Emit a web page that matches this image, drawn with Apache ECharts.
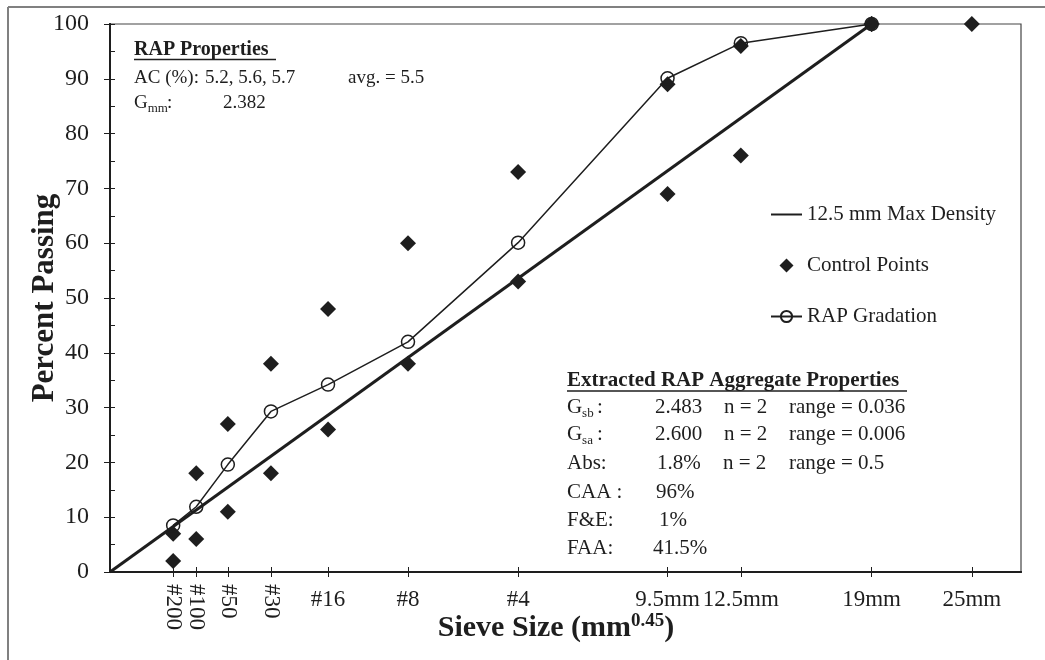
<!DOCTYPE html>
<html>
<head>
<meta charset="utf-8">
<script src="https://cdn.jsdelivr.net/npm/echarts@6/dist/echarts.min.js"></script>
<style>
html,body{margin:0;padding:0;background:#fff;}
#chart{width:1045px;height:660px;}
</style>
</head>
<body>
<div id="chart"></div>
<script>
// Sieve positions on the axis (mm^0.45) and their labels
const sieveLabels = ['#200', '#100', '#50', '#30', '#16', '#8', '#4', '9.5mm', '12.5mm', '19mm', '25mm'];
const sieveX = [0.312, 0.426, 0.582, 0.795, 1.077, 1.472, 2.016, 2.754, 3.116, 3.762, 4.257];
const rotatedLabelCount = 4; // #200..#30 drawn vertically

// Control points (lower / upper)
const controlLower = [2, 6, 11, 18, 26, 38, 53, 69, 76, 100, null];
const controlUpper = [7, 18, 27, 38, 48, 60, 73, 89, 96, 100, 100];

// RAP gradation (percent passing), up to 19mm
const rapGradation = [8.5, 11.9, 19.6, 29.3, 34.2, 42, 60.1, 90.1, 96.5, 100];

// 12.5 mm maximum density line endpoints
const maxDensityX = [0, 3.762];
const maxDensityY = [0, 100];

const yTicks = [0, 10, 20, 30, 40, 50, 60, 70, 80, 90, 100];

const FONT = "'Liberation Serif','Times New Roman',serif";
const INK = '#1e1e1e';

function labelFor(v) {
  for (let i = 0; i < sieveX.length; i++) if (Math.abs(sieveX[i] - v) < 1e-6) return sieveLabels[i];
  return '';
}

const controlData = [];
sieveX.forEach((x, i) => {
  if (controlLower[i] != null) controlData.push([x, controlLower[i]]);
  if (controlUpper[i] != null) controlData.push([x, controlUpper[i]]);
});
const rapData = rapGradation.map((v, i) => [sieveX[i], v]);
const maxData = maxDensityX.map((x, i) => [x, maxDensityY[i]]);

const chart = echarts.init(document.getElementById('chart'), null, {renderer: 'canvas'});

function txt(text, x, y, size, extra) {
  return {
    type: 'text', z: 100,
    style: Object.assign({text: text, x: x, y: y, fontSize: size, fontFamily: FONT, fill: INK,
      textAlign: 'left', textVerticalAlign: 'middle'}, extra || {})
  };
}
// "G" with a subscript and a trailing colon
function subG(x, y, sub, size, subSize, colonX) {
  return [
    txt('G', x, y, size),
    txt(sub, x + size * 0.72, y + size * 0.3, subSize),
    txt(':', colonX, y, size)
  ];
}

const S1 = 19; // RAP properties block
const S2 = 21; // extracted aggregate block

const graphics = [
  // outer frame (top & left)
  {type: 'line', z: 100, shape: {x1: 8, y1: 7, x2: 1045, y2: 7}, style: {stroke: '#808080', lineWidth: 2}},
  {type: 'line', z: 100, shape: {x1: 8, y1: 7, x2: 8, y2: 660}, style: {stroke: '#808080', lineWidth: 2}},
  // RAP properties block
  txt('RAP Properties', 134, 50, 20, {fontWeight: 'bold'}),
  {type: 'line', z: 100, shape: {x1: 134, y1: 59.5, x2: 276, y2: 59.5}, style: {stroke: INK, lineWidth: 1.5}},
  txt('AC (%):', 134, 78, S1),
  txt('5.2, 5.6, 5.7', 205, 78, S1),
  txt('avg. = 5.5', 348, 78, S1),
  ...subG(134, 103, 'mm', S1, 13, 167),
  txt('2.382', 223, 103, S1),
  // Extracted RAP aggregate block
  txt('Extracted RAP Aggregate Properties', 567, 381, S2, {fontWeight: 'bold'}),
  {type: 'line', z: 100, shape: {x1: 567, y1: 391, x2: 907, y2: 391}, style: {stroke: INK, lineWidth: 1.5}},
  ...subG(567, 407, 'sb', S2, 13, 597),
  txt('2.483', 655, 407, S2), txt('n = 2', 724, 407, S2), txt('range = 0.036', 789, 407, S2),
  ...subG(567, 434, 'sa', S2, 13, 597),
  txt('2.600', 655, 434, S2), txt('n = 2', 724, 434, S2), txt('range = 0.006', 789, 434, S2),
  txt('Abs:', 567, 463, S2),
  txt('1.8%', 657, 463, S2), txt('n = 2', 723, 463, S2), txt('range = 0.5', 789, 463, S2),
  txt('CAA :', 567, 492, S2), txt('96%', 656, 492, S2),
  txt('F&E:', 567, 520, S2), txt('1%', 659, 520, S2),
  txt('FAA:', 567, 548, S2), txt('41.5%', 653, 548, S2),
  // axis titles
  {type: 'text', z: 100, x: 45, y: 298, rotation: Math.PI / 2,
   style: {text: 'Percent Passing', fontSize: 31, fontWeight: 'bold', fontFamily: FONT, fill: INK,
     textAlign: 'center', textVerticalAlign: 'middle'}},
  {type: 'text', z: 100, x: 556, y: 628,
   style: {text: '{b|Sieve Size (mm}{s|0.45}{b|)}', textAlign: 'center', textVerticalAlign: 'middle', fill: INK,
     rich: {
       b: {fontSize: 30, fontWeight: 'bold', fontFamily: FONT, fill: INK, lineHeight: 32},
       s: {fontSize: 19, fontWeight: 'bold', fontFamily: FONT, fill: INK, verticalAlign: 'top', lineHeight: 32}
     }}}
];

const xCommon = {
  type: 'value', min: 0, max: 4.5, position: 'bottom',
  axisLine: {show: true, onZero: false, lineStyle: {color: INK, width: 2}},
  splitLine: {show: false}
};

const option = {
  animation: false,
  backgroundColor: '#fff',
  grid: {left: 110, right: 24, top: 24, bottom: 88, show: true, borderColor: '#444', borderWidth: 1.2},
  xAxis: [
    Object.assign({}, xCommon, {
      axisTick: {show: true, inside: false, length: 5, lineStyle: {color: INK, width: 1}, customValues: sieveX},
      axisLabel: {show: true, margin: 16, fontSize: 23, fontFamily: FONT, color: INK,
        customValues: sieveX.slice(rotatedLabelCount), formatter: labelFor}
    }),
    Object.assign({}, xCommon, {
      axisTick: {show: true, inside: true, length: 5, lineStyle: {color: INK, width: 1}, customValues: sieveX},
      axisLabel: {show: true, margin: 12, rotate: -90, fontSize: 23, fontFamily: FONT, color: INK,
        customValues: sieveX.slice(0, rotatedLabelCount), formatter: labelFor}
    })
  ],
  yAxis: [
    {type: 'value', min: 0, max: 100, interval: 10, position: 'left',
     axisLine: {show: true, lineStyle: {color: INK, width: 2}},
     axisTick: {show: true, inside: false, length: 6, lineStyle: {color: INK, width: 1}},
     axisLabel: {show: true, margin: 21, fontSize: 24, fontFamily: FONT, color: INK, customValues: yTicks},
     splitLine: {show: false}},
    {type: 'value', min: 0, max: 100, interval: 10, position: 'left', offset: 0,
     axisLine: {show: true, lineStyle: {color: INK, width: 2}},
     axisTick: {show: true, inside: true, length: 5, lineStyle: {color: INK, width: 1}},
     minorTick: {show: true, splitNumber: 2, length: 5, lineStyle: {color: INK, width: 1}},
     axisLabel: {show: false},
     splitLine: {show: false}}
  ],
  legend: {
    orient: 'vertical', left: 770, top: 204, padding: 0,
    itemWidth: 31, itemHeight: 14, itemGap: 30,
    symbolKeepAspect: true,
    textStyle: {fontSize: 21, fontFamily: FONT, color: INK, lineHeight: 21},
    data: [
      {name: '12.5 mm Max Density', itemStyle: {opacity: 0}},
      {name: 'Control Points', icon: 'path://M0,-1L1,0L0,1L-1,0Z'},
      {name: 'RAP Gradation'}
    ]
  },
  series: [
    {name: '12.5 mm Max Density', type: 'line', data: maxData, symbol: 'none',
     lineStyle: {color: INK, width: 3}, itemStyle: {color: INK}, z: 2},
    {name: 'Control Points', type: 'scatter', data: controlData, symbol: 'diamond', symbolSize: 16,
     itemStyle: {color: INK, opacity: 1}, z: 3},
    {name: 'RAP Gradation', type: 'line', data: rapData, symbol: 'circle', symbolSize: 13,
     showAllSymbol: true,
     lineStyle: {color: INK, width: 1.5},
     itemStyle: {color: 'rgba(255,255,255,0)', borderColor: INK, borderWidth: 1.5}, z: 4}
  ],
  graphic: graphics
};
chart.setOption(option);
</script>
</body>
</html>
